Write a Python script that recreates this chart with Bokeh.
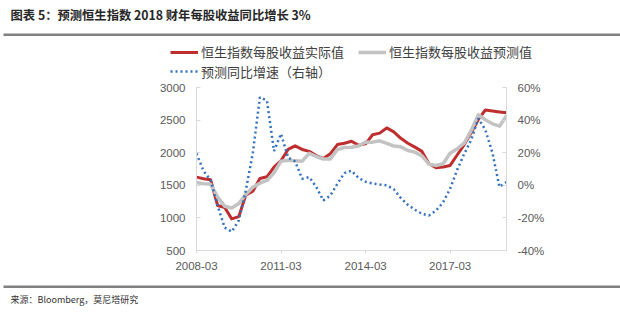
from bokeh.plotting import figure
from bokeh.models import (Range1d, LinearAxis, FixedTicker, Legend, LegendItem,
                          Label, BoxAnnotation, ColumnDataSource)
from bokeh.embed import file_html
from bokeh.resources import INLINE

# ---------------- data ----------------
quarters = [f"{2008 + i // 4}-{(i % 4 + 1) * 3:02d}" for i in range(45)]

eps_actual = [1625, 1600, 1585, 1190, 1160, 985, 1020, 1350, 1410, 1605,
              1630, 1780, 1880, 2050, 2105, 2050, 2020, 1955, 1910, 1985,
              2125, 2145, 2175, 2115, 2135, 2275, 2300, 2380, 2320, 2220,
              2145, 2085, 2020, 1830, 1770, 1780, 1805, 1965, 2125, 2310,
              2510, 2655, 2640, 2625, 2612]

eps_forecast = [1543, 1523, 1518, 1318, 1178, 1152, 1220, 1360, 1470, 1533,
                1574, 1690, 1870, 1885, 1878, 1870, 1990, 1942, 1903, 1905,
                2050, 2080, 2085, 2103, 2162, 2162, 2182, 2143, 2103, 2090,
                2034, 2009, 1950, 1825, 1804, 1830, 1993, 2060, 2146, 2341,
                2582, 2505, 2443, 2407, 2566]

growth_pct = [19.5, 8.8, 3.2, -12.5, -26, -28.5, -21.6, -3.2, 20, 54,
              52, 21, 31.6, 17, 14.6, 4, 5, -1, -9.3, -6.3,
              1, 7.5, 9, 4.5, 2.2, 1.1, 0.5, 0, -2.4, -7.8,
              -12, -15, -17.5, -18.5, -15.5, -10.5, -2, 9.5, 19.3, 28,
              41, 34, 20, -1, 2]

x_tick_labels = ["2008-03", "2011-03", "2014-03", "2017-03"]
left_ticks = [500, 1000, 1500, 2000, 2500, 3000]
right_ticks = [-40, -20, 0, 20, 40, 60]

title_text = "图表 5：预测恒生指数 2018 财年每股收益同比增长 3%"
source_text = "来源：Bloomberg，莫尼塔研究"
names = ["恒生指数每股收益实际值", "恒生指数每股收益预测值", "预测同比增速（右轴）"]

RED, GRAY, BLUE = "#BE2E2E", "#C3C3C3", "#3370C0"
cjk_font = "Noto Sans CJK SC"
tick_font = "Liberation Sans"
label_color = "#595959"
axis_color = "#d9d9d9"
rule_color = "#808080"
W = 620


def blank_fig(h):
    f = figure(width=W, height=h, output_backend="svg", toolbar_location=None,
               x_range=Range1d(0, W), y_range=Range1d(h, 0),
               x_axis_location=None, y_axis_location=None,
               min_border_left=0, min_border_right=0, min_border_top=0,
               min_border_bottom=0)
    f.outline_line_color = None
    f.xgrid.visible = False
    f.ygrid.visible = False
    return f


# ---------------- header: title, rule, legend ----------------
HEAD_H = 80
head = blank_fig(HEAD_H)
head.add_layout(Label(x=10, y=14, text=title_text, text_font=cjk_font,
                      text_font_style="bold", text_font_size="12.3px",
                      text_color="#262626", text_baseline="middle"))
head.add_layout(BoxAnnotation(left=3, right=W, top=33, bottom=35.5,
                              fill_color=rule_color, fill_alpha=1, line_color=None))

# legend-only renderers (their points lie outside the visible frame)
off = dict(x=[-100, -90], y=[-100, -100])
h_act = head.line(x=off["x"], y=off["y"], line_color=RED, line_width=3)
h_fc = head.line(x=off["x"], y=off["y"], line_color=GRAY, line_width=3.5)
h_gr = head.line(x=off["x"], y=off["y"], line_color=BLUE, line_width=2.5,
                 line_dash="2 3")


def make_legend(items, loc):
    return Legend(items=items, location=loc, orientation="horizontal",
                  padding=0, margin=0, spacing=14, glyph_width=28, glyph_height=14,
                  label_height=14, label_standoff=3,
                  label_text_font=cjk_font, label_text_font_size="13px",
                  label_text_color="#404040", background_fill_alpha=0,
                  border_line_alpha=0)


head.add_layout(make_legend([LegendItem(label=names[0], renderers=[h_act]),
                             LegendItem(label=names[1], renderers=[h_fc])], (170, 19)))
head.add_layout(make_legend([LegendItem(label=names[2], renderers=[h_gr])], (170, -0.5)))

# ---------------- main chart ----------------
idx = list(range(len(quarters)))
src = ColumnDataSource(dict(x=idx, actual=eps_actual, forecast=eps_forecast,
                            growth=growth_pct))

MAIN_H = 204
p = figure(width=W, height=MAIN_H, output_backend="svg", toolbar_location=None,
           x_range=Range1d(0, len(quarters) - 1), y_range=Range1d(500, 3000),
           min_border_left=196, min_border_right=114, min_border_top=7,
           min_border_bottom=34)
p.extra_y_ranges = {"pct": Range1d(-40, 60)}
p.outline_line_color = None
p.xgrid.visible = False
p.ygrid.visible = False

xa = p.xaxis[0]
xa.ticker = FixedTicker(ticks=[quarters.index(t) for t in x_tick_labels])
xa.major_label_overrides = {quarters.index(t): t for t in x_tick_labels}
xa.minor_tick_line_color = None
xa.major_tick_in = 0
xa.major_tick_out = 3
xa.axis_line_color = axis_color
xa.major_tick_line_color = axis_color
xa.major_label_text_font = tick_font
xa.major_label_text_font_size = "11.5px"
xa.major_label_text_color = label_color
xa.major_label_standoff = 8

ya = p.yaxis[0]
ya.ticker = FixedTicker(ticks=left_ticks)
ya.minor_tick_line_color = None
ya.major_tick_in = 4
ya.major_tick_out = 0
ya.axis_line_color = axis_color
ya.major_tick_line_color = axis_color
ya.major_label_text_font = tick_font
ya.major_label_text_font_size = "11.5px"
ya.major_label_text_color = label_color
ya.major_label_standoff = 11

ra = LinearAxis(y_range_name="pct")
ra.ticker = FixedTicker(ticks=right_ticks)
ra.major_label_overrides = {t: f"{t}%" for t in right_ticks}
ra.minor_tick_line_color = None
ra.major_tick_in = 4
ra.major_tick_out = 0
ra.axis_line_color = axis_color
ra.major_tick_line_color = axis_color
ra.major_label_text_font = tick_font
ra.major_label_text_font_size = "11.5px"
ra.major_label_text_color = label_color
ra.major_label_standoff = 11
p.add_layout(ra, "right")

p.line("x", "actual", source=src, line_color=RED, line_width=3, line_join="round")
p.line("x", "forecast", source=src, line_color=GRAY, line_width=3.5, line_join="round")
p.line("x", "growth", source=src, y_range_name="pct", line_color=BLUE,
       line_width=2.5, line_dash="2 3")

# ---------------- footer: rule and source ----------------
FOOT_H = 40
foot = blank_fig(FOOT_H)
foot.add_layout(BoxAnnotation(left=3, right=W, top=1, bottom=3.5,
                              fill_color=rule_color, fill_alpha=1, line_color=None))
foot.add_layout(Label(x=10, y=15, text=source_text, text_font=cjk_font,
                      text_font_size="9px", text_color="#333333",
                      text_baseline="middle"))

# three separate roots stacked vertically (no frame alignment between them)
open("out.html", "w").write(file_html([head, p, foot], INLINE))
